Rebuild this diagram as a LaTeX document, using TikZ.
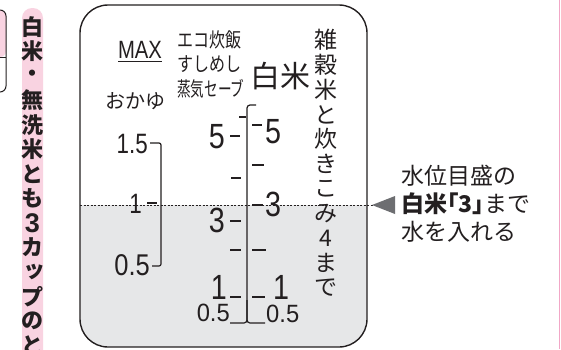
\documentclass[tikz,border=0pt]{standalone}
\usepackage{fontspec}
\usepackage{graphicx}
\setmainfont{Noto Sans CJK JP}
\newfontfamily\numfont{Liberation Sans}
\definecolor{pinkband}{HTML}{F9D3E1}
\definecolor{graywater}{HTML}{E6E7E8}
\definecolor{ink}{HTML}{231F20}
\definecolor{arrowgray}{HTML}{6D6E71}
\definecolor{pinkline}{HTML}{F2A7C7}
\begin{document}
\begin{tikzpicture}[x=1pt,y=-1pt,
  inkline/.style={draw=ink, line width=1.2pt},
  tickmark/.style={draw=ink, line width=1.1pt},
  bignum/.style={inner sep=0pt, text=ink, font=\numfont\fontsize{35}{35}\selectfont},
  midnum/.style={inner sep=0pt, text=ink, font=\numfont\fontsize{25}{25}\selectfont},
  smallnum/.style={inner sep=0pt, text=ink, font=\numfont\fontsize{28}{28}\selectfont},
  bandchar/.style={inner sep=0pt, text=ink, font=\fontsize{22}{22}\selectfont\bfseries},
  vchar/.style={inner sep=0pt, text=ink, font=\fontsize{23}{23}\selectfont},
  label/.style={inner sep=0pt, text=ink, font=\fontsize{20}{20}\selectfont},
  note/.style={inner sep=0pt, text=ink, anchor=west, font=\fontsize{23}{23}\selectfont}]
\useasboundingbox (0,0) rectangle (561,349);
\clip (0,0) rectangle (561,349);
\fill[white] (0,0) rectangle (561,349);
% left small box
\fill[pinkband, rounded corners=6] (-10,10) rectangle (6,57);
\draw[ink, line width=1pt, rounded corners=6] (-10,10) -- (6,10) -- (6,92) -- (-10,92);
\draw[ink, line width=1pt] (-10,57) -- (6,57);
% pink band
\fill[pinkband, rounded corners=10] (22,8) rectangle (43,370);
\foreach \c [count=\i] in {白,米,・,無,洗,米,と,も,{\numfont\fontsize{27}{27}\selectfont 3},カ,{\raisebox{2pt}{\hspace{3pt}ッ}},プ,の,と}
  \node[bandchar] (b\i) at (32.5, 27+\i*24.5-24.5) {\c};
% right pink line
\draw[pinkline, line width=1pt] (559.5,0) -- (559.5,349);
% main box
\begin{scope}
\clip[rounded corners=28] (80,5) rectangle (367,347);
\fill[graywater] (80,205) rectangle (367,347);
\end{scope}
\draw[ink, line width=1.4pt, rounded corners=28] (80,5) rectangle (367,347);
\draw[ink, line width=0.6pt, dash pattern=on 2pt off 1.5pt] (80,205) -- (374,205);
% arrow
\fill[arrowgray] (372,205) -- (395,196) -- (395,214) -- cycle;
% headings
\node[inner sep=0pt, text=ink, anchor=base, font=\numfont\fontsize{25}{25}\selectfont] (max) at (140,58) {\scalebox{0.81}[1]{MAX}};
\draw[ink, line width=1pt] (118,61) -- (162,61);
\node[label] (okayu) at (135,101) {おかゆ};
\node[label, anchor=west] (eco) at (177,40) {\scalebox{0.8}[1]{エコ炊飯}};
\node[label, anchor=west] (sushi) at (177,64) {\scalebox{0.8}[1]{すしめし}};
\node[label, anchor=west] (steam) at (177,89) {\scalebox{0.68}[1]{蒸気セーブ}};
\node[inner sep=0pt, text=ink, font=\fontsize{30}{30}\selectfont] (hakumai) at (280,76) {白米};
\foreach \c [count=\i] in {雑,穀,米,と,炊,き,こ,み,4,ま,で}
  \node[vchar] (v\i) at (326, 40+\i*24.8-24.8) {\c};
% okayu scale
\draw[inkline, rounded corners=2] (150,143) -- (161,143) -- (161,266) -- (152,266);
\node[smallnum, anchor=base east] (o15) at (148,153) {\scalebox{0.8}[1]{1.5}};
\node[smallnum, anchor=base east] (o1) at (142,213) {\scalebox{0.8}[1]{1}};
\draw[tickmark] (147,203) -- (157,203);
\node[smallnum, anchor=base east, font=\numfont\fontsize{30}{30}\selectfont] (o05) at (150,275) {\scalebox{0.85}[1]{0.5}};
% central scale
\draw[inkline, rounded corners=3] (230,323) -- (247,323) -- (247,105) -- (256,105);
\draw[inkline, rounded corners=3] (247,300) |- (265,323);
\draw[tickmark] (239,117) -- (246,117);
% left ticks
\node[bignum, anchor=base east] (m5) at (225,148) {\scalebox{0.82}[1]{5}};
\draw[tickmark] (230,136) -- (240,136);
\draw[tickmark] (231,178) -- (241,178);
\node[bignum, anchor=base east] (m3) at (225,232) {\scalebox{0.82}[1]{3}};
\draw[tickmark] (230,221) -- (241,221);
\draw[tickmark] (230,250) -- (241,250);
\node[bignum, anchor=base east] (m1) at (227,299) {\scalebox{0.82}[1]{1}};
\draw[tickmark] (230,297) -- (241,297);
\node[midnum, anchor=base east] (m05) at (230,321) {\scalebox{0.95}[1]{0.5}};
% right ticks
\draw[tickmark] (252,125) -- (262,125);
\node[bignum, anchor=base west] (w5) at (265,143) {\scalebox{0.82}[1]{5}};
\draw[tickmark] (252,165) -- (264,165);
\draw[tickmark] (252,205) -- (263,205);
\node[bignum, anchor=base west] (w3) at (265,216) {\scalebox{0.82}[1]{3}};
\draw[tickmark] (252,250) -- (266,250);
\draw[tickmark] (252,297) -- (265,297);
\node[bignum, anchor=base west] (w1) at (273,299) {\scalebox{0.82}[1]{1}};
\node[midnum, anchor=base west] (w05) at (266,322) {\scalebox{0.95}[1]{0.5}};
% note
\node[note] (n1) at (401,176) {水位目盛の};
\node[note] (n2) at (401,204) {\textbf{白米｢3｣}まで};
\node[note] (n3) at (401,232) {水を入れる};
\end{tikzpicture}
\end{document}
